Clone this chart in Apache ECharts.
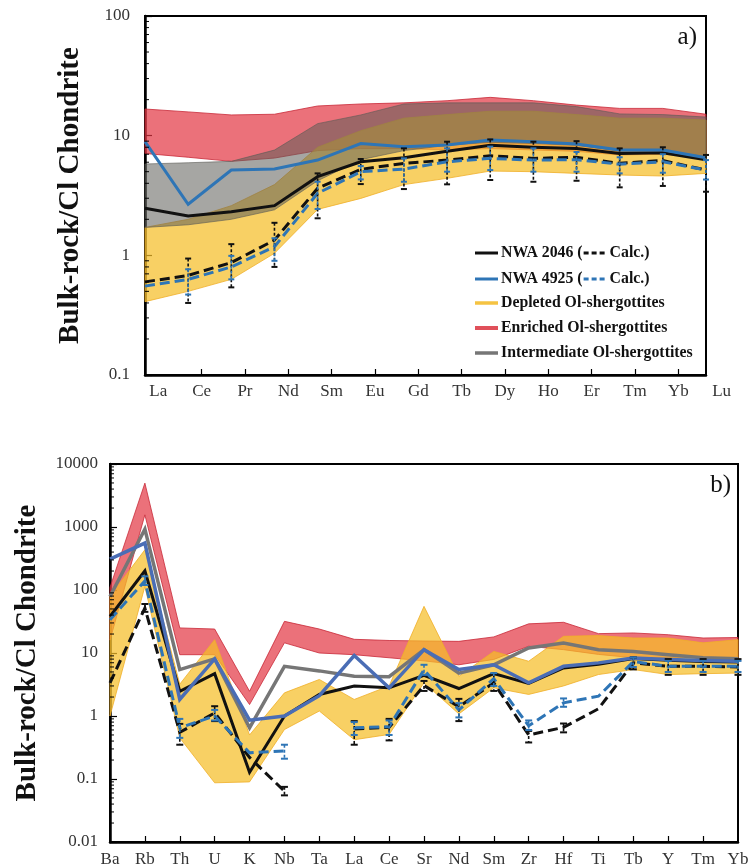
<!DOCTYPE html>
<html>
<head>
<meta charset="utf-8">
<script src="https://cdn.jsdelivr.net/npm/echarts@6/dist/echarts.min.js"></script>
<style>
  html, body { margin: 0; padding: 0; background: #fff; }
  #chart { width: 755px; height: 868px; }
</style>
</head>
<body>
<div id="chart"></div>
<script>
// ---------- a) REE patterns (CI-chondrite normalised) ----------
const ree = ['La', 'Ce', 'Pr', 'Nd', 'Sm', 'Eu', 'Gd', 'Tb', 'Dy', 'Ho', 'Er', 'Tm', 'Yb', 'Lu'];

const nwa2046Ree      = [2.47, 2.13, 2.31, 2.6, 4.54, 6.05, 6.54, 7.4, 8.3, 8.0, 7.8, 7.1, 7.2, 6.3];
const nwa2046ReeCalc  = [0.60, 0.68, 0.87, 1.34, 3.63, 5.23, 5.87, 6.25, 6.8, 6.46, 6.6, 5.87, 6.2, 5.16];
const nwa2046ReeLo    = [null, 0.40, 0.54, 0.80, 2.04, 3.94, 3.58, 3.92, 4.26, 4.12, 4.2, 3.7, 3.8, 3.4];
const nwa2046ReeHi    = [null, 0.94, 1.24, 1.87, 4.84, 6.38, 7.83, 8.9, 9.3, 8.9, 9.0, 7.83, 8.0, 6.9];

const nwa4925Ree      = [8.9, 2.67, 5.16, 5.26, 6.25, 8.6, 8.07, 8.34, 9.2, 8.9, 8.5, 7.58, 7.58, 6.54];
const nwa4925ReeCalc  = [0.553, 0.63, 0.80, 1.18, 3.3, 5.0, 5.26, 6.05, 6.46, 6.25, 6.3, 5.77, 6.05, 5.16];
const nwa4925ReeLo    = [null, 0.47, 0.63, 0.90, 2.44, 4.31, 4.12, 5.0, 5.16, 5.0, 5.0, 4.84, 4.9, 4.3];
const nwa4925ReeHi    = [null, 0.765, 0.99, 1.39, 4.12, 5.57, 6.46, 7.83, 8.1, 7.83, 7.3, 6.6, 7.0, 6.25];

const depletedReeLo     = [0.41, 0.50, 0.63, 1.04, 2.42, 2.99, 3.9, 4.4, 5.06, 5.0, 4.84, 4.69, 4.6, 4.84];
const depletedReeHi     = [1.71, 2.0, 2.6, 3.9, 8.0, 11.0, 14.0, 15.0, 16.0, 16.0, 15.0, 14.0, 14.0, 13.5];
const enrichedReeLo     = [7.1, 6.6, 6.1, 6.5, 7.5, 7.8, 7.8, 7.6, 7.8, 7.6, 7.4, 6.9, 7.0, 6.5];
const enrichedReeHi     = [16.7, 15.8, 14.9, 15.1, 17.7, 18.4, 18.8, 19.6, 20.9, 19.6, 18.0, 16.9, 16.9, 15.1];
const intermediateReeLo = [1.71, 1.8, 2.0, 2.4, 4.2, 6.3, 7.5, 8.3, 8.8, 8.6, 8.3, 7.4, 7.4, 6.7];
const intermediateReeHi = [5.8, 5.94, 6.1, 7.58, 12.6, 14.9, 18.4, 18.8, 18.8, 18.8, 17.5, 15.2, 15.0, 14.3];

// ---------- b) multi-element patterns ----------
const elements = ['Ba', 'Rb', 'Th', 'U', 'K', 'Nb', 'Ta', 'La', 'Ce', 'Sr', 'Nd', 'Sm', 'Zr', 'Hf', 'Ti', 'Tb', 'Y', 'Tm', 'Yb'];

const nwa2046Trace     = [38, 202, 2.47, 4.7, 0.128, 1.0, 2.2, 3.0, 2.8, 4.43, 2.73, 4.71, 3.3, 5.8, 6.6, 8.2, 7.7, 7.3, 7.2];
const nwa2046TraceCalc = [3.36, 51.8, 0.55, 1.12, 0.22, 0.064, null, 0.62, 0.66, 3.04, 1.4, 3.36, 0.5, 0.66, 1.3, 6.97, 6.15, 6.15, 6.0];
const nwa2046TraceLo   = [null, 45, 0.35, 0.83, null, 0.055, null, 0.35, 0.41, 2.5, 0.83, 2.5, 0.38, 0.55, null, 5.5, 4.5, 4.5, 4.5];
const nwa2046TraceHi   = [null, 60, 0.75, 1.43, null, 0.075, null, 0.83, 0.9, 3.6, 1.87, 4.6, 0.58, 0.76, null, 8.5, 8.0, 8.0, 8.0];

const nwa4925Trace     = [310, 556, 1.83, 8.05, 0.86, 1.0, 2.1, 9.1, 2.8, 11.3, 5.46, 6.5, 3.36, 6.15, 6.97, 8.36, 7.9, 7.6, 7.4];
const nwa4925TraceCalc = [33.8, 140, 0.65, 1.0, 0.26, 0.28, null, 0.65, 0.68, 5.4, 1.25, 3.9, 0.7, 1.62, 2.06, 7.3, 6.15, 6.15, 6.15];
const nwa4925TraceLo   = [null, 120, 0.45, 0.85, null, 0.21, null, 0.5, 0.5, 4.5, 0.95, 3.0, 0.6, 1.4, null, 6.0, 5.0, 5.0, 5.0];
const nwa4925TraceHi   = [null, 165, 0.9, 1.25, null, 0.35, null, 0.8, 0.85, 6.5, 1.6, 4.8, 0.85, 1.9, null, 8.5, 7.5, 7.5, 7.5];

const intermediateTrace = [79, 925, 5.46, 8.05, 0.65, 6.15, 5.2, 4.27, 4.2, 11.3, 4.8, 6.5, 12, 14.4, 11.3, 10.6, 9.4, 8.4, 8.1];
const depletedTraceLo   = [1.0, 114, 0.45, 0.087, 0.09, 0.61, 1.2, 0.42, 0.51, 3.36, 1.08, 2.8, 2.2, 3.0, 4.55, 5.46, 4.55, 4.7, 4.8];
const depletedTraceHi   = [80, 435, 3.2, 16.3, 0.5, 2.33, 3.8, 1.83, 3.0, 55, 4.27, 10.6, 7.4, 18.4, 18.9, 17.3, 17.3, 14.5, 16.3];
const enrichedTraceLo   = [16, 1560, 9.4, 9.4, 1.52, 14.5, 10, 9.4, 8.4, 7.5, 6.5, 7.9, 12.8, 11.3, 9.5, 8.4, 8.5, 8.5, 8.5];
const enrichedTraceHi   = [110, 4970, 25, 24, 2.47, 31.8, 24, 16.5, 15.8, 15.5, 15.3, 18, 29, 30.7, 20.3, 20.8, 19.5, 17.3, 17.6];

const legendNames = ['NWA 2046 (', 'NWA 4925 (', 'Depleted Ol-shergottites', 'Enriched Ol-shergottites', 'Intermediate Ol-shergottites'];
const calcLabel = 'Calc.)';
const yTitle = 'Bulk-rock/Cl Chondrite';

// ---------- styling ----------
const SERIF = '"Liberation Serif", "DejaVu Serif", serif';
const C_BLACK = '#111111';
const C_BLUE = '#2e75b6';
const C_BLUE_B = '#4a6db5';
const C_GRAY = '#767676';
const YELLOW_FILL = 'rgba(245,190,40,0.72)';
const RED_FILL = 'rgba(226,52,66,0.70)';
const GRAY_FILL = 'rgba(92,92,88,0.55)';

// minor tick positions for log axes (2..9 within each decade)
function minorTicks(e0, e1) {
  const out = [];
  for (let e = e0; e < e1; e++) {
    for (let k = 2; k <= 9; k++) out.push(Number((k * Math.pow(10, e)).toPrecision(3)));
  }
  return out;
}

// short inward ticks on the left log axis, placed through the axis scale
function minorTickMarks(xIdx, yIdx, values, len) {
  return {
    type: 'custom', xAxisIndex: xIdx, yAxisIndex: yIdx, z: 30, silent: true, clip: false,
    data: values.map(v => [0, v]), encode: { x: 0, y: 1 },
    renderItem(params, api) {
      const p = api.coord([0, api.value(1)]);
      return { type: 'line', shape: { x1: p[0], y1: p[1], x2: p[0] + len, y2: p[1] }, style: { stroke: '#000', lineWidth: 1 } };
    }
  };
}

function band(xIdx, yIdx, lo, hi, fill, stroke, z) {
  return {
    type: 'custom', xAxisIndex: xIdx, yAxisIndex: yIdx, z: z, silent: true,
    data: lo.map((v, i) => [i, v, hi[i]]),
    encode: { x: 0, y: [1, 2] },
    renderItem(params, api) {
      if (params.dataIndex !== 0) return null;
      const top = hi.map((v, i) => api.coord([i, v]));
      const bot = lo.map((v, i) => api.coord([i, v])).reverse();
      return {
        type: 'polygon',
        shape: { points: top.concat(bot) },
        style: { fill: fill, stroke: stroke, lineWidth: 1 }
      };
    }
  };
}

function line(xIdx, yIdx, values, color, width, dash, z) {
  return {
    type: 'line', xAxisIndex: xIdx, yAxisIndex: yIdx, z: z,
    data: values, symbol: 'none', silent: true, connectNulls: false,
    lineStyle: { color: color, width: width, type: dash || 'solid', cap: 'butt', join: 'miter' }
  };
}

function errorBars(xIdx, yIdx, lo, hi, color, cap, z) {
  const data = [];
  lo.forEach((v, i) => { if (v != null && hi[i] != null) data.push([i, v, hi[i]]); });
  return {
    type: 'custom', xAxisIndex: xIdx, yAxisIndex: yIdx, z: z, silent: true,
    data: data, encode: { x: 0, y: [1, 2] },
    renderItem(params, api) {
      const i = api.value(0);
      const a = api.coord([i, api.value(2)]);
      const b = api.coord([i, api.value(1)]);
      return {
        type: 'group',
        children: [
          { type: 'line', shape: { x1: a[0], y1: a[1], x2: b[0], y2: b[1] }, style: { stroke: color, lineWidth: 1.6, lineDash: [3, 2] } },
          { type: 'line', shape: { x1: a[0] - cap, y1: a[1], x2: a[0] + cap, y2: a[1] }, style: { stroke: color, lineWidth: 2 } },
          { type: 'line', shape: { x1: b[0] - cap, y1: b[1], x2: b[0] + cap, y2: b[1] }, style: { stroke: color, lineWidth: 2 } }
        ]
      };
    }
  };
}

const logLabel = v => String(Number(Number(v).toPrecision(6)));

function mainY(gridIndex, min, max, nameGap, labelMargin) {
  return {
    type: 'log', logBase: 10, gridIndex: gridIndex, min: min, max: max, position: 'left',
    axisLine: { show: true, lineStyle: { color: '#000', width: 2.5 } },
    axisTick: { show: true, inside: true, length: 7, lineStyle: { color: '#000', width: 1.2 } },
    axisLabel: { show: true, formatter: logLabel, fontFamily: SERIF, fontSize: 17, color: '#333', margin: labelMargin },
    splitLine: { show: false },
    name: yTitle, nameLocation: 'middle', nameRotate: 90, nameGap: nameGap,
    nameTextStyle: { fontFamily: SERIF, fontSize: 29, fontWeight: 'bold', color: '#111' }
  };
}

const catTickInterval = n => (idx) => idx > 0 && idx < n - 1;

const option = {
  animation: false,
  backgroundColor: '#fff',
  grid: [
    { left: 145, top: 16, width: 561, height: 359, show: true, borderColor: '#000', borderWidth: 2, backgroundColor: 'transparent' },
    { left: 158.3, top: 16, width: 563.3, height: 359, show: false },
    { left: 110, top: 464, width: 628, height: 378.7, show: true, borderColor: '#000', borderWidth: 2, backgroundColor: 'transparent' }
  ],
  xAxis: [
    { type: 'category', gridIndex: 0, data: ree, boundaryGap: false,
      axisLine: { show: true, lineStyle: { color: '#000', width: 2.5 } },
      axisTick: { show: false }, axisLabel: { show: false }, splitLine: { show: false } },
    { type: 'category', gridIndex: 1, data: ree, boundaryGap: false,
      axisLine: { show: false },
      axisTick: { show: true, inside: true, length: 6, interval: catTickInterval(ree.length), lineStyle: { color: '#000', width: 1.2 } },
      axisLabel: { show: true, interval: 0, fontFamily: SERIF, fontSize: 17, color: '#333', margin: 8 },
      splitLine: { show: false } },
    { type: 'category', gridIndex: 2, data: elements, boundaryGap: false,
      axisLine: { show: true, lineStyle: { color: '#000', width: 2.5 } },
      axisTick: { show: true, inside: true, length: 6, interval: catTickInterval(elements.length), lineStyle: { color: '#000', width: 1.2 } },
      axisLabel: { show: true, interval: 0, fontFamily: SERIF, fontSize: 17, color: '#333', margin: 9 },
      splitLine: { show: false } }
  ],
  yAxis: [
    mainY(0, 0.1, 100, 60, 15),
    { type: 'log', gridIndex: 1, min: 0.1, max: 100, show: false },
    mainY(2, 0.01, 10000, 68, 12)
  ],
  series: [
    // a) reference fields
    band(0, 0, enrichedReeLo, enrichedReeHi, RED_FILL, 'rgba(200,40,55,0.8)', 1),
    band(0, 0, depletedReeLo, depletedReeHi, YELLOW_FILL, 'rgba(240,175,40,0.8)', 2),
    band(0, 0, intermediateReeLo, intermediateReeHi, GRAY_FILL, 'rgba(90,90,85,0.6)', 3),
    // a) samples
    line(0, 0, nwa2046Ree, C_BLACK, 3, null, 5),
    line(0, 0, nwa4925Ree, C_BLUE, 3, null, 6),
    line(0, 0, nwa2046ReeCalc, C_BLACK, 3, [10, 5], 7),
    line(0, 0, nwa4925ReeCalc, C_BLUE, 3, [10, 5], 8),
    errorBars(0, 0, nwa2046ReeLo, nwa2046ReeHi, '#111', 3, 9),
    errorBars(0, 0, nwa4925ReeLo, nwa4925ReeHi, C_BLUE, 3, 10),
    minorTickMarks(0, 0, minorTicks(-1, 2), 4),

    // b) reference fields
    band(2, 2, enrichedTraceLo, enrichedTraceHi, RED_FILL, 'rgba(200,40,55,0.8)', 1),
    band(2, 2, depletedTraceLo, depletedTraceHi, YELLOW_FILL, 'rgba(240,175,40,0.8)', 2),
    line(2, 2, intermediateTrace, C_GRAY, 3.5, null, 4),
    // b) samples
    line(2, 2, nwa2046Trace, C_BLACK, 3, null, 5),
    line(2, 2, nwa4925Trace, C_BLUE_B, 3.5, null, 6),
    line(2, 2, nwa2046TraceCalc, C_BLACK, 3, [10, 5], 7),
    line(2, 2, nwa4925TraceCalc, C_BLUE, 3, [10, 5], 8),
    errorBars(2, 2, nwa2046TraceLo, nwa2046TraceHi, '#111', 3.5, 9),
    errorBars(2, 2, nwa4925TraceLo, nwa4925TraceHi, C_BLUE, 3.5, 10),
    minorTickMarks(2, 2, minorTicks(-2, 4), 4)
  ]
};

// ---------- legend and panel tags (drawn as graphic elements) ----------
function textWidth(txt, font) {
  const ctx = document.createElement('canvas').getContext('2d');
  ctx.font = font;
  return ctx.measureText(txt).width;
}
const LEG_FONT = 'bold 15.8px "Liberation Serif"';
const legX0 = 475, legX1 = 498, legTextX = 501;
const legY = [253, 279, 303, 328, 353];
const legColors = [C_BLACK, C_BLUE, '#f5c342', '#e0505a', C_GRAY];
const legWidths = [3, 3, 3.5, 4, 3.5];

const graphics = [];
legendNames.forEach((name, k) => {
  const y = legY[k];
  graphics.push({ type: 'line', silent: true, z: 100,
    shape: { x1: legX0, y1: y, x2: legX1, y2: y },
    style: { stroke: legColors[k], lineWidth: legWidths[k] } });
  graphics.push({ type: 'text', silent: true, z: 100, x: legTextX, y: y,
    style: { text: name, font: LEG_FONT, fill: '#111', verticalAlign: 'middle', align: 'left' } });
  if (k < 2) {
    const w = textWidth(name, LEG_FONT);
    const d0 = legTextX + w + 1, d1 = d0 + 24;
    graphics.push({ type: 'line', silent: true, z: 100,
      shape: { x1: d0, y1: y, x2: d1, y2: y },
      style: { stroke: legColors[k], lineWidth: 3, lineDash: [5, 3] } });
    graphics.push({ type: 'text', silent: true, z: 100, x: d1 + 2, y: y,
      style: { text: calcLabel, font: LEG_FONT, fill: '#111', verticalAlign: 'middle', align: 'left' } });
  }
});
graphics.push({ type: 'text', silent: true, z: 100, x: 697, y: 37,
  style: { text: 'a)', font: '25px "Liberation Serif"', fill: '#111', verticalAlign: 'middle', align: 'right' } });
graphics.push({ type: 'text', silent: true, z: 100, x: 731, y: 485,
  style: { text: 'b)', font: '25px "Liberation Serif"', fill: '#111', verticalAlign: 'middle', align: 'right' } });
option.graphic = graphics;

const chart = echarts.init(document.getElementById('chart'), null, { renderer: 'canvas' });
chart.setOption(option);
</script>
</body>
</html>
